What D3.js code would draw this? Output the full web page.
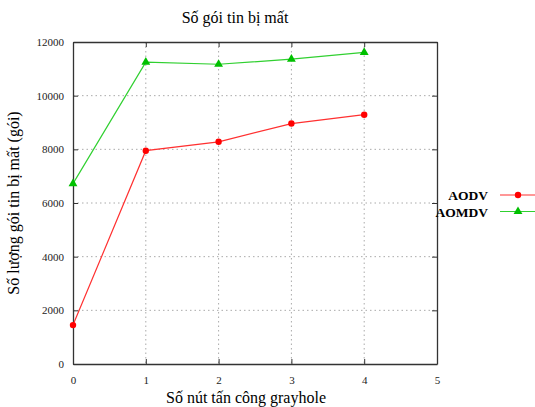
<!DOCTYPE html>
<html>
<head>
<meta charset="utf-8">
<script src="https://cdn.jsdelivr.net/npm/d3@7"></script>
<style>
  body { margin: 0; background: #fff; }
  svg text { font-family: "Liberation Serif", "DejaVu Serif", serif !important; }
</style>
</head>
<body>
<div id="chart"></div>
<script>
// data
var xValues = [0, 1, 2, 3, 4];
var aodv = [1450, 7950, 8280, 8960, 9290];
var aomdv = [6720, 11250, 11170, 11360, 11610];
var seriesNames = ["AODV", "AOMDV"];
var xTicks = [0, 1, 2, 3, 4, 5];
var yTicks = [0, 2000, 4000, 6000, 8000, 10000, 12000];

var svgWidth = 535;
var svgHeight = 407;

var margin = { top: 42, right: 98, bottom: 43, left: 73 };
var width = svgWidth - margin.left - margin.right;
var height = svgHeight - margin.top - margin.bottom;

var svg = d3.select("#chart")
  .append("svg")
  .attr("width", svgWidth)
  .attr("height", svgHeight);

var chartGroup = svg.append("g")
  .attr("transform", `translate(${margin.left}, ${margin.top})`);

var xScale = d3.scaleLinear().domain([0, 5]).range([0, width]);
var yScale = d3.scaleLinear().domain([0, 12000]).range([height, 0]);

// grid lines (dotted)
chartGroup.append("g")
  .selectAll("line")
  .data(yTicks.slice(1, -1))
  .enter()
  .append("line")
  .attr("x1", 0)
  .attr("x2", width)
  .attr("y1", d => yScale(d))
  .attr("y2", d => yScale(d))
  .attr("stroke", "#aaa")
  .attr("stroke-dasharray", "1.5,3");

chartGroup.append("g")
  .selectAll("line")
  .data(xTicks.slice(1, -1))
  .enter()
  .append("line")
  .attr("x1", d => xScale(d))
  .attr("x2", d => xScale(d))
  .attr("y1", 0)
  .attr("y2", height)
  .attr("stroke", "#aaa")
  .attr("stroke-dasharray", "1.5,3");

// axes, ticks pointing inward
var bottomAxis = d3.axisBottom(xScale).tickValues(xTicks).tickFormat(d3.format("d"))
  .tickSizeInner(-5).tickSizeOuter(0).tickPadding(12);
var leftAxis = d3.axisLeft(yScale).tickValues(yTicks).tickFormat(d3.format("d"))
  .tickSizeInner(-5).tickSizeOuter(0).tickPadding(9);
var topAxis = d3.axisTop(xScale).tickValues(xTicks).tickSizeInner(-5).tickSizeOuter(0).tickFormat("");
var rightAxis = d3.axisRight(yScale).tickValues(yTicks).tickSizeInner(-5).tickSizeOuter(0).tickFormat("");

chartGroup.append("g")
  .attr("transform", `translate(0, ${height})`)
  .call(bottomAxis);
chartGroup.append("g").call(leftAxis);
chartGroup.append("g").call(topAxis);
chartGroup.append("g").attr("transform", `translate(${width}, 0)`).call(rightAxis);

chartGroup.selectAll(".domain").attr("stroke", "#333").attr("stroke-width", 1.3);
chartGroup.selectAll(".tick line").attr("stroke", "#333");
chartGroup.selectAll(".tick text")
  .attr("font-size", "11px")
  .attr("fill", "#222");

// series
var colors = ["#ff0000", "#00c000"];
var lineColors = ["#ff3030", "#30d030"];
var allSeries = [aodv, aomdv];

var line = d3.line()
  .x((d, i) => xScale(xValues[i]))
  .y(d => yScale(d));

allSeries.forEach(function(values, s) {
  chartGroup.append("path")
    .datum(values)
    .attr("fill", "none")
    .attr("stroke", lineColors[s])
    .attr("stroke-width", 1.2)
    .attr("d", line);
});

// AODV markers: circles
chartGroup.selectAll(".ptA")
  .data(aodv)
  .enter()
  .append("circle")
  .attr("cx", (d, i) => xScale(xValues[i]))
  .attr("cy", d => yScale(d))
  .attr("r", 3.2)
  .attr("fill", colors[0]);

// AOMDV markers: triangles
var tri = d3.symbol().type(d3.symbolTriangle).size(34);
chartGroup.selectAll(".ptB")
  .data(aomdv)
  .enter()
  .append("path")
  .attr("d", tri)
  .attr("transform", (d, i) => `translate(${xScale(xValues[i])}, ${yScale(d)})`)
  .attr("fill", colors[1]);

// legend
var legend = svg.append("g");
seriesNames.forEach(function(name, s) {
  var ly = 195 + s * 16.5;
  legend.append("text")
    .attr("x", 488)
    .attr("y", ly + 5)
    .attr("text-anchor", "end")
    .attr("font-size", "13.5px")
    .attr("font-weight", "bold")
    .text(name);
  legend.append("line")
    .attr("x1", 500)
    .attr("x2", 535)
    .attr("y1", ly)
    .attr("y2", ly)
    .attr("stroke", lineColors[s])
    .attr("stroke-width", 1.2);
  if (s === 0) {
    legend.append("circle").attr("cx", 518).attr("cy", ly).attr("r", 3.2).attr("fill", colors[0]);
  } else {
    legend.append("path").attr("d", tri).attr("transform", `translate(518, ${ly})`).attr("fill", colors[1]);
  }
});

// title and axis labels
svg.append("text")
  .attr("x", 235)
  .attr("y", 23)
  .attr("text-anchor", "middle")
  .attr("font-size", "16px")
  .text("Số gói tin bị mất");

svg.append("text")
  .attr("x", 246)
  .attr("y", 403)
  .attr("text-anchor", "middle")
  .attr("font-size", "16px")
  .text("Số nút tấn công grayhole");

svg.append("text")
  .attr("transform", "rotate(-90)")
  .attr("x", -203)
  .attr("y", 19)
  .attr("text-anchor", "middle")
  .attr("font-size", "16px")
  .text("Số lượng gói tin bị mất (gói)");
</script>
</body>
</html>
